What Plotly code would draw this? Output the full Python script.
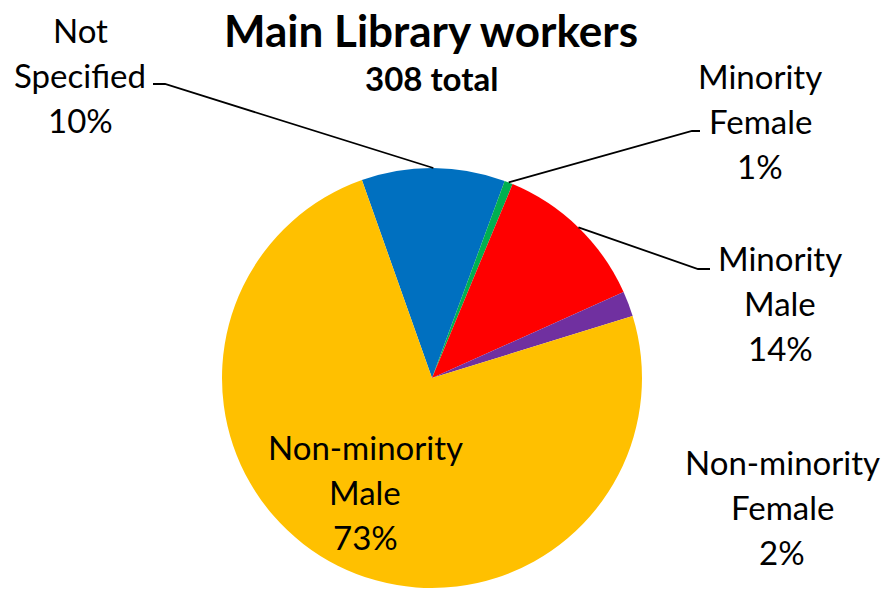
import numpy as np
import plotly.graph_objects as go

W, H = 886, 589

# data (counts out of 308, labels as printed)
groups = ["Not Specified", "Minority Female", "Minority Male",
          "Non-minority Female", "Non-minority Male"]
workers = [34, 2, 37, 6, 229]
pct_text = ["10%", "1%", "14%", "2%", "73%"]
label_lines = [["Not", "Specified"], ["Minority", "Female"], ["Minority", "Male"],
               ["Non-minority", "Female"], ["Non-minority", "Male"]]
colors = ["#0070C0", "#00B050", "#FF0000", "#7030A0", "#FFC000"]

# layout (pixels)
CX, CY, R = 432, 378, 210
ROT = -19.5
FONT = "Lato"
label_pos = [(80, 30), (760, 76), (780, 258), (782, 462), (365, 447)]
LINE_GAP = 45
# elbow + end of leader line for slices that have one
leaders = {0: [(165, 84), (153, 84)], 1: [(692, 131), (700, 131)], 2: [(698, 269), (710, 269)]}


def px(x, y):
    return x / W, 1 - y / H


fig = go.Figure(go.Pie(
    labels=groups, values=workers, sort=False, direction="clockwise", rotation=ROT,
    marker=dict(colors=colors, line=dict(width=0)), textinfo="none",
    hoverinfo="label+value+percent", showlegend=False,
    domain=dict(x=[(CX - R) / W, (CX + R) / W], y=[1 - (CY + R) / H, 1 - (CY - R) / H]),
))

anns = []
for (lx, ly), lines, pct in zip(label_pos, label_lines, pct_text):
    for k, t in enumerate(lines + [pct]):
        x, y = px(lx, ly + k * LINE_GAP)
        anns.append(dict(x=x, y=y, xref="paper", yref="paper", text=t, showarrow=False,
                         xanchor="center", yanchor="middle",
                         font=dict(family=FONT, size=33, color="#000000")))

anns.append(dict(x=px(431, 30)[0], y=px(431, 30)[1], xref="paper", yref="paper",
                 text="<b>Main Library workers</b>", showarrow=False, xanchor="center",
                 yanchor="middle", font=dict(family=FONT, size=44, color="#000000")))
anns.append(dict(x=px(431, 78)[0], y=px(431, 78)[1], xref="paper", yref="paper",
                 text="<b>308 total</b>", showarrow=False, xanchor="center",
                 yanchor="middle", font=dict(family=FONT, size=33, color="#000000")))

# leader lines start at slice mid-angle on the rim
frac = np.array(workers) / sum(workers)
start = ROT + 360 * np.concatenate([[0], np.cumsum(frac)[:-1]])
mid = np.radians(start + 180 * frac)
shapes = []
for i, pts in leaders.items():
    sx, sy = CX + R * np.sin(mid[i]), CY - R * np.cos(mid[i])
    coords = [px(sx, sy)] + [px(a, b) for a, b in pts]
    path = "M " + " L ".join(f"{a:.5f},{b:.5f}" for a, b in coords)
    shapes.append(dict(type="path", path=path, xref="paper", yref="paper",
                       line=dict(color="#000000", width=1.8)))

fig.update_layout(
    width=W, height=H, margin=dict(l=0, r=0, t=0, b=0),
    paper_bgcolor="white", plot_bgcolor="white",
    annotations=anns, shapes=shapes,
)

fig.write_html("out.html", config={"displayModeBar": False},
               post_script="document.body.style.margin='0px';")
